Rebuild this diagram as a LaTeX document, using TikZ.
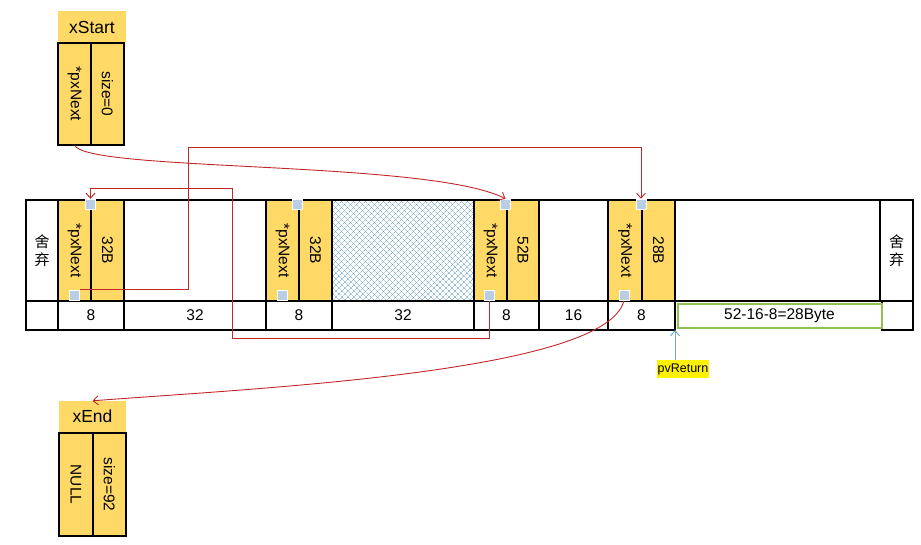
\documentclass[tikz,border=0pt]{standalone}
\usepackage{fontspec}
\usepackage{graphicx}
\setmainfont{Liberation Sans}
\newfontfamily\cjk{Noto Sans CJK SC}
\usetikzlibrary{arrows.meta,patterns.meta}
\definecolor{yel}{HTML}{FFD966}
\definecolor{sqc}{HTML}{B9CDE5}
\definecolor{arr}{RGB}{192,40,40}
\definecolor{hatchc}{RGB}{95,160,200}
\definecolor{grn}{HTML}{92C050}
\definecolor{pvblue}{RGB}{120,165,220}
\newcommand{\vt}[1]{\rotatebox{-90}{#1}}
\begin{document}
\begin{tikzpicture}[x=1pt,y=-1pt,
  cell/.style={draw=black,line width=1.8pt,rectangle,inner sep=0pt,outer sep=0pt,
    font=\fontsize{15.5}{18}\selectfont},
  ycell/.style={cell,fill=yel},
  top/.style={minimum height=101pt},
  bot/.style={minimum height=29pt},
  head/.style={rectangle,fill=yel,inner sep=0pt,font=\fontsize{17.5}{20}\selectfont},
  sqbox/.style={rectangle,fill=sqc,draw=white,line width=0.5pt,minimum width=10pt,minimum height=10pt,inner sep=0pt},
  redline/.style={draw=arr,line width=0.9pt},
  redarrow/.style={redline,-{Straight Barb[length=5pt,width=9pt]}},
  hatchA/.style={pattern={Lines[angle=45,distance=4pt,line width=0.45pt]},pattern color=hatchc},
  hatchB/.style={pattern={Lines[angle=-45,distance=4pt,line width=0.45pt]},pattern color=hatchc},
  discard/.style={rectangle,inner sep=0pt,font=\fontsize{15}{18}\selectfont\cjk,align=center}
]
\useasboundingbox (0,0) rectangle (921,544);

% xStart
\node[head,minimum width=68pt,minimum height=32pt] (xsh) at (92,27) {xStart};
\node[ycell,minimum width=33pt,minimum height=102pt] (xsa) at (74.5,94) {\vt{*pxNext}};
\node[ycell,minimum width=33pt,minimum height=102pt] (xsb) at (107.5,94) {\vt{size=0}};

% xEnd
\node[head,minimum width=67pt,minimum height=31pt] (xeh) at (92.5,416.5) {xEnd};
\node[ycell,minimum width=34pt,minimum height=103pt] (xea) at (76,484.5) {\vt{NULL}};
\node[ycell,minimum width=33pt,minimum height=103pt] (xeb) at (109.5,484.5) {\vt{size=92}};

% top row
\node[cell,top,minimum width=32pt] (d1) at (42,250.5) {};
\node[discard] (d1t) at (42,251) {舍\\弃};
\node[ycell,top,minimum width=33pt] (y1a) at (74.5,250.5) {\vt{*pxNext}};
\node[ycell,top,minimum width=33pt] (y1b) at (107.5,250.5) {\vt{32B}};
\node[cell,top,minimum width=142pt] (w1) at (195,250.5) {};
\node[ycell,top,minimum width=33pt] (y2a) at (282.5,250.5) {\vt{*pxNext}};
\node[ycell,top,minimum width=33pt] (y2b) at (315.5,250.5) {\vt{32B}};
\node[cell,top,minimum width=142pt,preaction={hatchA},preaction={hatchB}] (hz) at (403,250.5) {};
\node[ycell,top,minimum width=33pt] (y3a) at (490.5,250.5) {\vt{*pxNext}};
\node[ycell,top,minimum width=32pt] (y3b) at (523,250.5) {\vt{52B}};
\node[cell,top,minimum width=69pt] (w2) at (573.5,250.5) {};
\node[ycell,top,minimum width=34pt] (y4a) at (625,250.5) {\vt{*pxNext}};
\node[ycell,top,minimum width=33pt] (y4b) at (658.5,250.5) {\vt{28B}};
\node[cell,top,minimum width=205pt] (w3) at (777.5,250.5) {};
\node[cell,top,minimum width=33pt] (d2) at (896.5,250.5) {};
\node[discard] (d2t) at (896.5,251) {舍\\弃};

% bottom row
\node[cell,bot,minimum width=32pt] (b0) at (42,315.5) {};
\node[cell,bot,minimum width=66pt] (b1) at (91,315.5) {8};
\node[cell,bot,minimum width=142pt] (b2) at (195,315.5) {32};
\node[cell,bot,minimum width=66pt] (b3) at (299,315.5) {8};
\node[cell,bot,minimum width=142pt] (b4) at (403,315.5) {32};
\node[cell,bot,minimum width=65pt] (b5) at (506.5,315.5) {8};
\node[cell,bot,minimum width=69pt] (b6) at (573.5,315.5) {16};
\node[cell,bot,minimum width=67pt] (b7) at (641.5,315.5) {8};
\node[cell,bot,minimum width=31pt] (b9) at (897.5,315.5) {};
\node[cell,draw=grn,line width=2pt,minimum width=204pt,minimum height=24pt] (b8) at (779.5,316) {52-16-8=28Byte};

% pointer squares
\node[sqbox] (q1t) at (90.5,204) {};
\node[sqbox] (q1b) at (74.5,295) {};
\node[sqbox] (q2t) at (297.5,204) {};
\node[sqbox] (q2b) at (282.5,295) {};
\node[sqbox] (q3t) at (505.5,204) {};
\node[sqbox] (q3b) at (489.5,295) {};
\node[sqbox] (q4t) at (641,204) {};
\node[sqbox] (q4b) at (624,295) {};

% connectors
\coordinate (c2) at (188,147);
\coordinate (c3a) at (232,338);
\coordinate (c3b) at (232,188);
\draw[redarrow] (xsa.south) .. controls (85,172) and (430,160) .. (q3t.north);
\draw[redarrow] (q1b.north east) -| (c2) -| (q4t.north);
\draw[redarrow] (q3b.south) |- (c3a) -- (c3b) -| (q1t.north);
\draw[redarrow] (q4b.south) .. controls (608,372) and (260,388) .. (xeh.north);

% redraw squares on top of line starts
\node[sqbox] at (q1b) {};
\node[sqbox] at (q3b) {};
\node[sqbox] at (q4b) {};

% pvReturn
\node[rectangle,fill=yellow,inner xsep=0.8pt,inner ysep=0pt,minimum height=18pt,
  font=\fontsize{12.5}{14}\selectfont] (pv) at (683,369) {pvReturn};
\coordinate (pvtip) at (675,330);
\draw[pvblue,line width=1pt,-{Straight Barb[length=5pt,width=9pt]}] (pv.north -| pvtip) -- (pvtip);
\end{tikzpicture}
\end{document}
